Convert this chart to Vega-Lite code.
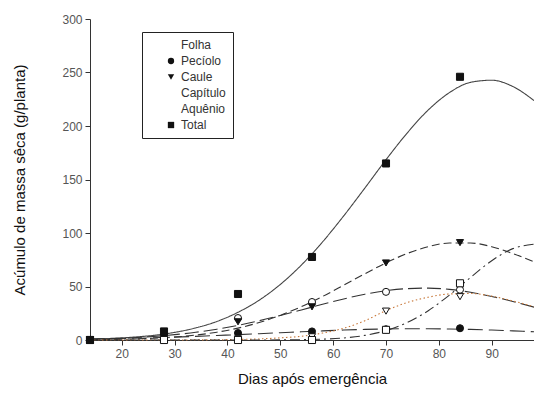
{
  "$schema": "https://vega.github.io/schema/vega-lite/v6.json",
  "width": 444,
  "height": 321,
  "autosize": "none",
  "padding": {"left": 90, "top": 19, "right": 0, "bottom": 54},
  "background": "white",
  "config": {
    "view": {"stroke": null},
    "font": "Liberation Sans",
    "axis": {"grid": false, "domainColor": "#333", "tickColor": "#333", "labelColor": "#555", "labelFontSize": 12, "titleColor": "#111", "titleFontSize": 15, "titleFontWeight": "normal", "labelFont": "Liberation Sans", "titleFont": "Liberation Sans", "tickSize": 5}
  },
  "datasets": {
    "curves": [
      {"s":"Total","x":14,"y":0.8},{"s":"Total","x":18,"y":1.5},{"s":"Total","x":22,"y":2.6},{"s":"Total","x":26,"y":4.3},{"s":"Total","x":30,"y":7.1},{"s":"Total","x":34,"y":11.3},{"s":"Total","x":38,"y":17.3},{"s":"Total","x":42,"y":25.9},{"s":"Total","x":46,"y":37.2},{"s":"Total","x":50,"y":51.9},{"s":"Total","x":54,"y":70.1},{"s":"Total","x":58,"y":91.7},{"s":"Total","x":62,"y":116},{"s":"Total","x":66,"y":142},{"s":"Total","x":70,"y":168.5},{"s":"Total","x":74,"y":193.4},{"s":"Total","x":78,"y":215},{"s":"Total","x":82,"y":231.2},{"s":"Total","x":86,"y":240.8},{"s":"Total","x":90,"y":242.8},{"s":"Total","x":94,"y":236.9},{"s":"Total","x":98,"y":223.8},
      {"s":"Caule","x":14,"y":0.3},{"s":"Caule","x":18,"y":0.5},{"s":"Caule","x":22,"y":0.9},{"s":"Caule","x":26,"y":1.7},{"s":"Caule","x":30,"y":2.8},{"s":"Caule","x":34,"y":4.6},{"s":"Caule","x":38,"y":7.3},{"s":"Caule","x":42,"y":11.1},{"s":"Caule","x":46,"y":16.3},{"s":"Caule","x":50,"y":23},{"s":"Caule","x":54,"y":31.2},{"s":"Caule","x":58,"y":40.7},{"s":"Caule","x":62,"y":51.2},{"s":"Caule","x":66,"y":61.9},{"s":"Caule","x":70,"y":72.1},{"s":"Caule","x":74,"y":80.8},{"s":"Caule","x":78,"y":87.2},{"s":"Caule","x":82,"y":90.6},{"s":"Caule","x":86,"y":90.6},{"s":"Caule","x":90,"y":87.2},{"s":"Caule","x":94,"y":80.8},{"s":"Caule","x":98,"y":73},
      {"s":"Folha","x":14,"y":0.8},{"s":"Folha","x":18,"y":1.3},{"s":"Folha","x":22,"y":2.1},{"s":"Folha","x":26,"y":3.3},{"s":"Folha","x":30,"y":5},{"s":"Folha","x":34,"y":7.2},{"s":"Folha","x":38,"y":10.1},{"s":"Folha","x":42,"y":13.7},{"s":"Folha","x":46,"y":18},{"s":"Folha","x":50,"y":22.9},{"s":"Folha","x":54,"y":28.1},{"s":"Folha","x":58,"y":33.4},{"s":"Folha","x":62,"y":38.4},{"s":"Folha","x":66,"y":42.8},{"s":"Folha","x":70,"y":46.1},{"s":"Folha","x":74,"y":48},{"s":"Folha","x":78,"y":48.5},{"s":"Folha","x":82,"y":47.3},{"s":"Folha","x":86,"y":44.6},{"s":"Folha","x":90,"y":40.7},{"s":"Folha","x":94,"y":36},{"s":"Folha","x":98,"y":30.7},
      {"s":"Pecíolo","x":14,"y":0.9},{"s":"Pecíolo","x":18,"y":1.2},{"s":"Pecíolo","x":22,"y":1.6},{"s":"Pecíolo","x":26,"y":2.1},{"s":"Pecíolo","x":30,"y":2.7},{"s":"Pecíolo","x":34,"y":3.4},{"s":"Pecíolo","x":38,"y":4.2},{"s":"Pecíolo","x":42,"y":5},{"s":"Pecíolo","x":46,"y":5.9},{"s":"Pecíolo","x":50,"y":6.8},{"s":"Pecíolo","x":54,"y":7.7},{"s":"Pecíolo","x":58,"y":8.5},{"s":"Pecíolo","x":62,"y":9.3},{"s":"Pecíolo","x":66,"y":9.9},{"s":"Pecíolo","x":70,"y":10.3},{"s":"Pecíolo","x":74,"y":10.5},{"s":"Pecíolo","x":78,"y":10.5},{"s":"Pecíolo","x":82,"y":10.3},{"s":"Pecíolo","x":86,"y":9.9},{"s":"Pecíolo","x":90,"y":9.3},{"s":"Pecíolo","x":94,"y":8.5},{"s":"Pecíolo","x":98,"y":7.7},
      {"s":"Capítulo","x":14,"y":0},{"s":"Capítulo","x":22,"y":0},{"s":"Capítulo","x":30,"y":0},{"s":"Capítulo","x":34,"y":0.1},{"s":"Capítulo","x":38,"y":0.2},{"s":"Capítulo","x":42,"y":0.5},{"s":"Capítulo","x":46,"y":1},{"s":"Capítulo","x":50,"y":2},{"s":"Capítulo","x":54,"y":3.5},{"s":"Capítulo","x":58,"y":6.5},{"s":"Capítulo","x":62,"y":11},{"s":"Capítulo","x":66,"y":18},{"s":"Capítulo","x":70,"y":27.5},{"s":"Capítulo","x":74,"y":35},{"s":"Capítulo","x":78,"y":40},{"s":"Capítulo","x":82,"y":43},{"s":"Capítulo","x":86,"y":43.5},{"s":"Capítulo","x":90,"y":41},{"s":"Capítulo","x":94,"y":36.5},{"s":"Capítulo","x":98,"y":31},
      {"s":"Aquênio","x":14,"y":0},{"s":"Aquênio","x":30,"y":0},{"s":"Aquênio","x":42,"y":0},{"s":"Aquênio","x":46,"y":0.03},{"s":"Aquênio","x":50,"y":0.1},{"s":"Aquênio","x":54,"y":0.3},{"s":"Aquênio","x":58,"y":0.8},{"s":"Aquênio","x":62,"y":1.9},{"s":"Aquênio","x":66,"y":4.3},{"s":"Aquênio","x":70,"y":8.8},{"s":"Aquênio","x":74,"y":16.3},{"s":"Aquênio","x":78,"y":27.4},{"s":"Aquênio","x":82,"y":42},{"s":"Aquênio","x":86,"y":58.5},{"s":"Aquênio","x":90,"y":74.1},{"s":"Aquênio","x":94,"y":85.4},{"s":"Aquênio","x":98,"y":89.5}
    ],
    "points": [
      {"s":"Folha","x":14,"y":0},{"s":"Pecíolo","x":14,"y":0},{"s":"Caule","x":14,"y":0},{"s":"Capítulo","x":14,"y":0},{"s":"Aquênio","x":14,"y":0},{"s":"Total","x":14,"y":0},
      {"s":"Folha","x":28,"y":2},{"s":"Pecíolo","x":28,"y":1},{"s":"Caule","x":28,"y":2},{"s":"Capítulo","x":28,"y":0},{"s":"Aquênio","x":28,"y":0},{"s":"Total","x":28,"y":8},
      {"s":"Folha","x":42,"y":20.5},{"s":"Pecíolo","x":42,"y":6.5},{"s":"Caule","x":42,"y":17},{"s":"Capítulo","x":42,"y":1},{"s":"Aquênio","x":42,"y":0},{"s":"Total","x":42,"y":43},
      {"s":"Folha","x":56,"y":35.5},{"s":"Pecíolo","x":56,"y":8},{"s":"Caule","x":56,"y":31},{"s":"Capítulo","x":56,"y":3},{"s":"Aquênio","x":56,"y":0},{"s":"Total","x":56,"y":77.6},
      {"s":"Folha","x":70,"y":45},{"s":"Pecíolo","x":70,"y":10},{"s":"Caule","x":70,"y":72},{"s":"Capítulo","x":70,"y":27},{"s":"Aquênio","x":70,"y":9.5},{"s":"Total","x":70,"y":165},
      {"s":"Folha","x":84,"y":47},{"s":"Pecíolo","x":84,"y":11},{"s":"Caule","x":84,"y":91},{"s":"Capítulo","x":84,"y":40.5},{"s":"Aquênio","x":84,"y":53},{"s":"Total","x":84,"y":246}
    ]
  },
  "layer": [
    {
      "data": {"name": "curves"},
      "mark": {"type": "line", "interpolate": "monotone", "strokeWidth": 1.1},
      "encoding": {
        "x": {"field": "x", "type": "quantitative", "scale": {"domain": [14, 98], "nice": false, "zero": false}, "axis": {"values": [20,30,40,50,60,70,80,90], "title": "Dias após emergência", "titlePadding": 12, "labelPadding": 3}},
        "y": {"field": "y", "type": "quantitative", "scale": {"domain": [0, 300], "nice": false}, "axis": {"values": [0,50,100,150,200,250,300], "title": "Acúmulo de massa sêca (g/planta)", "titlePadding": 34, "labelPadding": 3}},
        "detail": {"field": "s"},
        "stroke": {"field": "s", "type": "nominal", "legend": null, "scale": {"domain": ["Total","Folha","Pecíolo","Caule","Capítulo","Aquênio"], "range": ["#444","#333","#333","#333","#c8783a","#333"]}},
        "strokeDash": {"field": "s", "type": "nominal", "legend": null, "scale": {"domain": ["Total","Folha","Pecíolo","Caule","Capítulo","Aquênio"], "range": [[1,0],[14,5],[15,6],[8,4],[1.5,2.5],[10,4,2,4]]}}
      }
    },
    {
      "data": {"name": "points"},
      "mark": {"type": "point", "filled": false, "size": 50, "stroke": "#111", "strokeWidth": 1, "opacity": 1},
      "encoding": {
        "x": {"field": "x", "type": "quantitative"},
        "y": {"field": "y", "type": "quantitative"},
        "shape": {"field": "s", "type": "nominal", "title": null, "scale": {"domain": ["Folha","Pecíolo","Caule","Capítulo","Aquênio","Total"], "range": ["circle","circle","triangle-down","triangle-down","square","square"]},
          "legend": {"orient": "none", "legendX": 52, "legendY": 13, "strokeColor": "#222", "padding": 7, "symbolOffset": 16, "labelFontSize": 12, "labelColor": "#333", "rowPadding": 4, "symbolSize": 40, "symbolStrokeColor": "#111", "symbolStrokeWidth": 1, "labelOffset": 4, "fillColor": "white",
            "encode": {"symbols": {"update": {"stroke": {"value": "#111"}, "strokeWidth": {"value": 1}}}}}},
        "fill": {"field": "s", "type": "nominal", "title": null, "scale": {"domain": ["Folha","Pecíolo","Caule","Capítulo","Aquênio","Total"], "range": ["white","#111","#111","white","white","#111"]},
          "legend": {"orient": "none", "legendX": 52, "legendY": 13, "symbolStrokeColor": "#111", "symbolStrokeWidth": 1,
            "encode": {"symbols": {"update": {"stroke": {"value": "#111"}, "strokeWidth": {"value": 1}}}}}}
      }
    }
  ]
}
